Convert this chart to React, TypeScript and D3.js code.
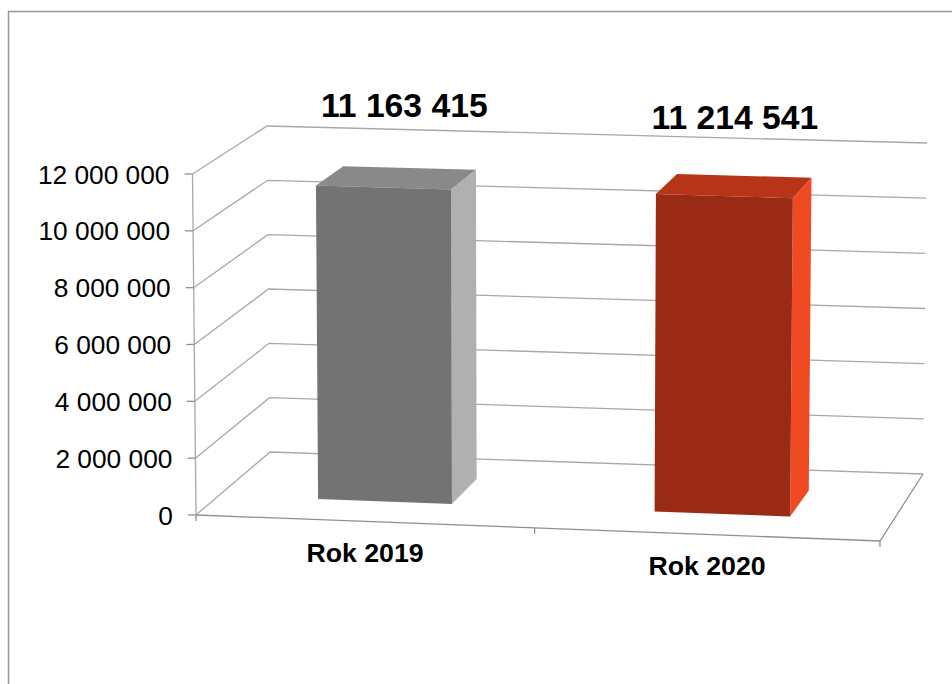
import React from "react";
import * as d3 from "d3";

const categories = ["Rok 2019", "Rok 2020"];
const values = [11163415, 11214541];
const valueLabels = ["11 163 415", "11 214 541"];
const frontColors = ["#737373", "#992b15"];
const topColors = ["#898989", "#b83418"];
const sideColors = ["#b0b0b0", "#f04a23"];
const yTickValues = [0, 2000000, 4000000, 6000000, 8000000, 10000000, 12000000];
const yTickLabels = ["0", "2 000 000", "4 000 000", "6 000 000", "8 000 000", "10 000 000", "12 000 000"];

// Corners of the 3D box as seen on the page
const FLB: [number, number] = [196, 515];
const FRB: [number, number] = [880, 541];
const BLB: [number, number] = [270, 452];
const BRB: [number, number] = [923, 474];
const FLT: [number, number] = [192.5, 174];
const FRT: [number, number] = [884, 195];
const BLT: [number, number] = [267, 126];
const BRT: [number, number] = [927, 143];

const lerp = (a: [number, number], b: [number, number], t: number): [number, number] => [
  a[0] + (b[0] - a[0]) * t,
  a[1] + (b[1] - a[1]) * t,
];
const heightScale = d3.scaleLinear().domain([0, 12000000]).range([0, 1]);
const bandScale = d3.scaleBand<number>().domain([0, 1]).range([0, 1]);

function project(u: number, value: number, w: number): [number, number] {
  const bottom = lerp(lerp(FLB, FRB, u), lerp(BLB, BRB, u), w);
  const top = lerp(lerp(FLT, FRT, u), lerp(BLT, BRT, u), w);
  return lerp(bottom, top, heightScale(value));
}

// Horizontal extent of each bar relative to its band centre
const barExtents: [number, number][] = [[-0.103, 0.0955], [-0.104, 0.097]];
const W0 = 0.31;
const W1 = 0.7;
const poly = (pts: [number, number][]) => d3.line()(pts) + "Z";
const GRID = "#a8a8a8";
const AXIS = "#909090";
const FONT = "'Liberation Sans', Arial, sans-serif";
const labelOffsets: [number, number][] = [[5.5, -61], [-1.5, -57]];

export default function App() {
  const band = bandScale.bandwidth();
  return (
    <svg width={952} height={684} style={{ position: "absolute", left: 0, top: 0, background: "#fff" }} fontFamily={FONT}>
      <path d="M8.5,684V11.5H952" fill="none" stroke="#999" strokeWidth={1.5} />

      {yTickValues.map((v) => (
        <path
          key={"g" + v}
          d={d3.line()([project(0, v, 0), project(0, v, 1), project(1, v, 1)]) as string}
          fill="none"
          stroke={GRID}
          strokeWidth={1.3}
        />
      ))}
      <path d={d3.line()([project(1, 0, 1), project(1, 0, 0), project(0, 0, 0)]) as string} fill="none" stroke={AXIS} strokeWidth={1.3} />
      <path d={d3.line()([project(0, 0, 0), project(0, 12000000, 0)]) as string} fill="none" stroke={GRID} strokeWidth={1.3} />

      {yTickValues.map((v, i) => {
        const [x, y] = project(0, v, 0);
        return (
          <g key={"t" + v}>
            <line x1={x - 8} x2={x} y1={y} y2={y} stroke={AXIS} strokeWidth={1.3} />
            <text x={x - 23} y={y + 9.5} textAnchor="end" fontSize={26.3} fill="#000">
              {yTickLabels[i]}
            </text>
          </g>
        );
      })}
      {[0, 0.495, 1].map((u) => {
        const [x, y] = project(u, 0, 0);
        return <line key={"x" + u} x1={x} x2={x} y1={y} y2={y + 6} stroke={AXIS} strokeWidth={1.3} />;
      })}

      {values.map((v, i) => {
        const mid = (bandScale(i) as number) + band / 2;
        const u0 = mid + barExtents[i][0];
        const u1 = mid + barExtents[i][1];
        const fbl = project(u0, 0, W0);
        const fbr = project(u1, 0, W0);
        const bbr = project(u1, 0, W1);
        const ftl = project(u0, v, W0);
        const ftr = project(u1, v, W0);
        const btr = project(u1, v, W1);
        const btl = project(u0, v, W1);
        return (
          <g key={categories[i]}>
            <path d={poly([ftl, btl, btr, ftr])} fill={topColors[i]} />
            <path d={poly([ftr, btr, bbr, fbr])} fill={sideColors[i]} />
            <path d={poly([fbl, ftl, ftr, fbr])} fill={frontColors[i]} />
          </g>
        );
      })}

      {categories.map((c, i) => {
        const mid = (bandScale(i) as number) + band / 2;
        const [x, y] = project(mid, 0, 0);
        const [lx, ly] = project(mid, values[i], 0.5);
        return (
          <g key={"l" + c}>
            <text x={x - 2} y={y + 40.5} textAnchor="middle" fontSize={26.7} fontWeight="bold" fill="#000">
              {c}
            </text>
            <text x={lx + labelOffsets[i][0]} y={ly + labelOffsets[i][1]} textAnchor="middle" fontSize={33.7} fontWeight="bold" fill="#000">
              {valueLabels[i]}
            </text>
          </g>
        );
      })}
    </svg>
  );
}
